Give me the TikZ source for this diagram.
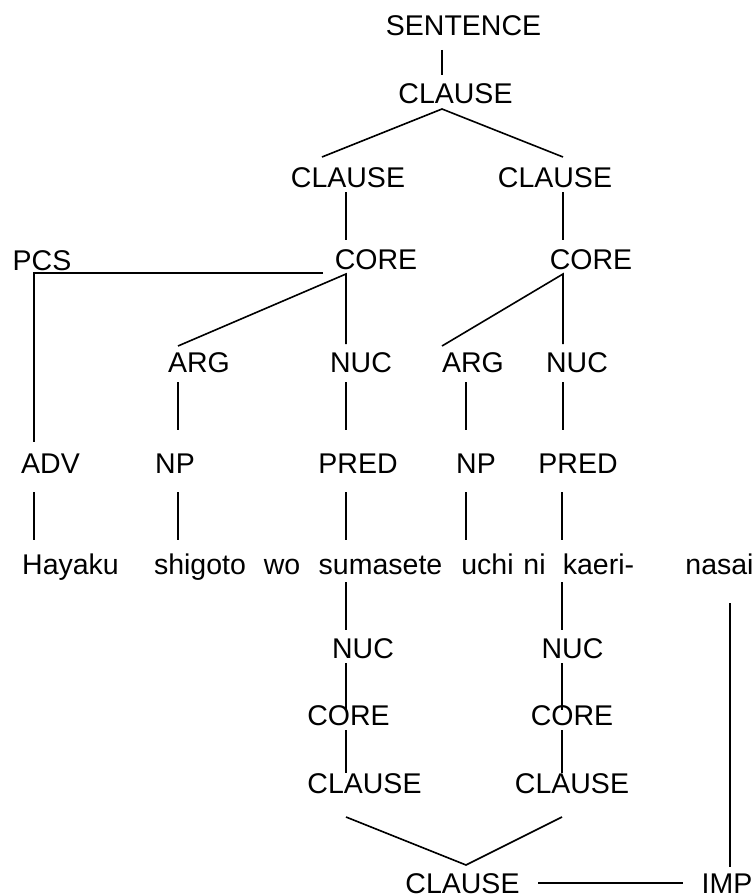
\documentclass[tikz,border=0pt]{standalone}
\usepackage{fontspec}
\setmainfont{Liberation Sans}
\begin{document}
\begin{tikzpicture}[x=1pt,y=-1pt,
  lbl/.style={inner sep=0pt,anchor=base,font=\fontsize{28.5}{30}\selectfont},
  edge/.style={line width=1.6pt}]
\useasboundingbox (0,0) rectangle (755,896);
% labels
\node[lbl] (sent) at (463.5,36) {SENTENCE};
\node[lbl] (cl0) at (455.5,104) {CLAUSE};
\node[lbl] (clL) at (348,187) {CLAUSE};
\node[lbl] (clR) at (555,187) {CLAUSE};
\node[lbl] (pcs) at (42,270) {PCS};
\node[lbl] (coL) at (376,269) {CORE};
\node[lbl] (coR) at (591,269) {CORE};
\node[lbl] (argL) at (199,372) {ARG};
\node[lbl] (nucL) at (361,372) {NUC};
\node[lbl] (argR) at (473,372) {ARG};
\node[lbl] (nucR) at (577,372) {NUC};
\node[lbl] (adv) at (50.5,473) {ADV};
\node[lbl] (npL) at (175,473) {NP};
\node[lbl] (prL) at (358,473) {PRED};
\node[lbl] (npR) at (476,473) {NP};
\node[lbl] (prR) at (578,473) {PRED};
\node[lbl] (w1) at (70.5,574) {Hayaku};
\node[lbl] (w2) at (200,574) {shigoto};
\node[lbl] (w3) at (282,574) {wo};
\node[lbl] (w4) at (380.5,574) {sumasete};
\node[lbl] (w5) at (487.5,574) {uchi};
\node[lbl] (w6) at (534.5,574) {ni};
\node[lbl] (w7) at (598.5,574) {kaeri-};
\node[lbl] (w8) at (719.5,574) {nasai};
\node[lbl] (nuL2) at (363,658) {NUC};
\node[lbl] (nuR2) at (572.5,658) {NUC};
\node[lbl] (coL2) at (348.5,725) {CORE};
\node[lbl] (coR2) at (572,725) {CORE};
\node[lbl] (clL2) at (364.5,793) {CLAUSE};
\node[lbl] (clR2) at (572,793) {CLAUSE};
\node[lbl] (clB) at (462.5,893) {CLAUSE};
\node[lbl] (imp) at (727,893) {IMP};
% attachment points
\coordinate (sent-b) at (442,50);
\coordinate (cl0-t) at (442,75);
\coordinate (cl0-b) at (442,109);
\coordinate (clL-t) at (322,157);
\coordinate (clR-t) at (563,157);
\coordinate (clL-b) at (346,192);
\coordinate (clR-b) at (563,192);
\coordinate (coL-t) at (346,240);
\coordinate (coR-t) at (563,240);
\coordinate (coL-l) at (323,273);
\coordinate (pcs-c) at (34,273);
\coordinate (adv-t) at (34,442);
\coordinate (coL-b) at (346,274);
\coordinate (coR-b) at (563,274);
\coordinate (argL-t) at (178,346);
\coordinate (nucL-t) at (346,344);
\coordinate (argR-t) at (442,346);
\coordinate (nucR-t) at (563,344);
\coordinate (argL-b) at (178,382);
\coordinate (nucL-b) at (346,382);
\coordinate (argR-b) at (466,382);
\coordinate (nucR-b) at (563,382);
\coordinate (npL-t) at (178,430);
\coordinate (prL-t) at (346,430);
\coordinate (npR-t) at (466,430);
\coordinate (prR-t) at (563,430);
\coordinate (adv-b) at (34,492);
\coordinate (npL-b) at (178,492);
\coordinate (prL-b) at (346,492);
\coordinate (npR-b) at (466,492);
\coordinate (prR-b) at (562,492);
\coordinate (w1-t) at (34,540);
\coordinate (w2-t) at (178,540);
\coordinate (w4-t) at (346,540);
\coordinate (w5-t) at (466,540);
\coordinate (w7-t) at (562,540);
\coordinate (w4-b) at (346,582);
\coordinate (w7-b) at (562,582);
\coordinate (nuL2-t) at (346,630);
\coordinate (nuR2-t) at (562,630);
\coordinate (nuL2-b) at (346,663);
\coordinate (nuR2-b) at (562,663);
\coordinate (coL2-t) at (346,710);
\coordinate (coR2-t) at (562,710);
\coordinate (coL2-b) at (346,730);
\coordinate (coR2-b) at (562,730);
\coordinate (clL2-t) at (346,773);
\coordinate (clR2-t) at (562,773);
\coordinate (clL2-b) at (346,817);
\coordinate (clR2-b) at (562,817);
\coordinate (clB-t) at (466,865);
\coordinate (clB-r) at (538,883);
\coordinate (imp-l) at (683,883);
\coordinate (w8-b) at (730,603);
\coordinate (imp-t) at (730,867);
% connectors
\draw[edge] (sent-b) -- (cl0-t);
\draw[edge] (clL-t) -- (cl0-b) -- (clR-t);
\draw[edge] (clL-b) -- (coL-t);
\draw[edge] (clR-b) -- (coR-t);
\draw[edge] (coL-l) -- (pcs-c) -- (adv-t);
\draw[edge] (argL-t) -- (coL-b) -- (nucL-t);
\draw[edge] (argR-t) -- (coR-b) -- (nucR-t);
\draw[edge] (argL-b) -- (npL-t);
\draw[edge] (nucL-b) -- (prL-t);
\draw[edge] (argR-b) -- (npR-t);
\draw[edge] (nucR-b) -- (prR-t);
\draw[edge] (adv-b) -- (w1-t);
\draw[edge] (npL-b) -- (w2-t);
\draw[edge] (prL-b) -- (w4-t);
\draw[edge] (npR-b) -- (w5-t);
\draw[edge] (prR-b) -- (w7-t);
\draw[edge] (w4-b) -- (nuL2-t);
\draw[edge] (w7-b) -- (nuR2-t);
\draw[edge] (nuL2-b) -- (coL2-t);
\draw[edge] (nuR2-b) -- (coR2-t);
\draw[edge] (coL2-b) -- (clL2-t);
\draw[edge] (coR2-b) -- (clR2-t);
\draw[edge] (clL2-b) -- (clB-t) -- (clR2-b);
\draw[edge] (clB-r) -- (imp-l);
\draw[edge] (w8-b) -- (imp-t);
\end{tikzpicture}
\end{document}
